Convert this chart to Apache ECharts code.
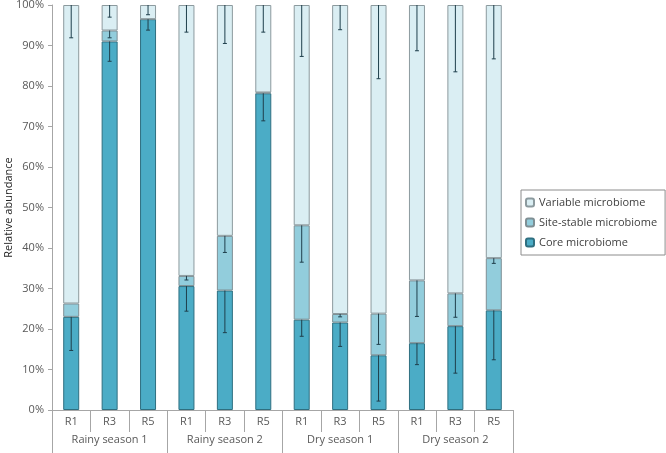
<!DOCTYPE html>
<html>
<head>
<meta charset="utf-8">
<script src="https://cdn.jsdelivr.net/npm/echarts@6/dist/echarts.min.js"></script>
<style>
  html, body { margin: 0; padding: 0; background: #fff; }
  #chart { width: 666px; height: 453px; }
</style>
</head>
<body>
<div id="chart"></div>
<script>
const sites = ['R1', 'R3', 'R5', 'R1', 'R3', 'R5', 'R1', 'R3', 'R5', 'R1', 'R3', 'R5']
const seasons = ['Rainy season 1', 'Rainy season 2', 'Dry season 1', 'Dry season 2']

// percentages of each stacked segment
const core = [23.0, 91.0, 96.5, 30.6, 29.5, 78.2, 22.3, 21.6, 13.5, 16.5, 20.7, 24.6]
const siteStable = [3.3, 2.7, 0, 2.5, 13.5, 0.2, 23.3, 2.1, 10.3, 15.5, 8.1, 12.9]
const variable = core.map((c, i) => +(100 - c - siteStable[i]).toFixed(1))

// downward error bar length, drawn from the top of each segment
const coreErr = [8.3, 4.9, 2.7, 6.2, 10.4, 6.8, 4.1, 5.9, 11.3, 5.3, 11.6, 12.2]
const siteErr = [0, 1.8, 0, 1.0, 4.1, 0, 9.1, 0.7, 7.6, 8.9, 5.9, 1.3]
const variableErr = [8.1, 3.0, 2.4, 6.7, 9.5, 6.7, 12.7, 6.1, 18.2, 11.3, 16.5, 13.3]

const errData = []
core.forEach((c, i) => {
  const siteTop = c + siteStable[i]
  errData.push([i, c, c - coreErr[i]])
  if (siteErr[i] > 0) errData.push([i, siteTop, siteTop - siteErr[i]])
  errData.push([i, 100, 100 - variableErr[i]])
})

const axisGrey = '#a6a6a6'
const textColor = '#595959'
const font = 'Open Sans'

const chart = echarts.init(document.getElementById('chart'))

const barBase = {
  type: 'bar',
  stack: 'total',
  barWidth: 16,
  xAxisIndex: 0,
  yAxisIndex: 0
}

chart.setOption({
  backgroundColor: '#fff',
  animation: false,
  textStyle: { fontFamily: font },
  grid: { left: 52, right: 153, top: 5, bottom: 43, outerBoundsMode: 'none' },
  legend: {
    data: ['Variable microbiome', 'Site-stable microbiome', 'Core microbiome'],
    orient: 'vertical',
    left: 521,
    top: 190,
    itemWidth: 8,
    itemHeight: 8,
    itemGap: 9,
    padding: [7, 8, 7, 4],
    borderColor: '#8c8c8c',
    borderWidth: 1,
    textStyle: { fontSize: 11, color: '#404040', fontFamily: font }
  },
  xAxis: [
    {
      type: 'category',
      data: sites,
      axisLine: { lineStyle: { color: axisGrey } },
      axisTick: { show: true, length: 22, interval: 0, lineStyle: { color: axisGrey } },
      axisLabel: { interval: 0, color: textColor, fontSize: 11, margin: 6 }
    },
    {
      type: 'category',
      data: seasons,
      position: 'bottom',
      axisLine: { show: false },
      axisTick: { show: true, length: 43, interval: 0, lineStyle: { color: axisGrey } },
      axisLabel: { interval: 0, color: textColor, fontSize: 11, margin: 24 }
    }
  ],
  yAxis: {
    type: 'value',
    min: 0,
    max: 100,
    interval: 10,
    name: 'Relative abundance',
    nameLocation: 'middle',
    nameGap: 38,
    nameMoveOverlap: false,
    nameTextStyle: { color: '#262626', fontSize: 11, fontFamily: font },
    axisLine: { show: true, lineStyle: { color: axisGrey } },
    axisTick: { show: true, length: 4, lineStyle: { color: axisGrey } },
    axisLabel: { formatter: '{value}%', color: textColor, fontSize: 11, margin: 8 },
    splitLine: { show: false }
  },
  series: [
    {
      ...barBase,
      name: 'Core microbiome',
      data: core,
      itemStyle: { color: '#4bacc6', borderColor: '#2f6f80', borderWidth: 1 }
    },
    {
      ...barBase,
      name: 'Site-stable microbiome',
      data: siteStable,
      itemStyle: { color: '#92cddc', borderColor: '#7f8f94', borderWidth: 1 }
    },
    {
      ...barBase,
      name: 'Variable microbiome',
      data: variable,
      itemStyle: { color: '#daeef3', borderColor: '#8c9a9e', borderWidth: 1 }
    },
    {
      type: 'custom',
      name: 'error',
      xAxisIndex: 0,
      yAxisIndex: 0,
      z: 10,
      data: errData,
      renderItem: (params, api) => {
        const top = api.coord([api.value(0), api.value(1)])
        const bottom = api.coord([api.value(0), api.value(2)])
        const style = { stroke: '#1f3f4c', lineWidth: 1 }
        return {
          type: 'group',
          children: [
            { type: 'line', shape: { x1: top[0], y1: top[1], x2: bottom[0], y2: bottom[1] }, style },
            { type: 'line', shape: { x1: bottom[0] - 2, y1: bottom[1], x2: bottom[0] + 2, y2: bottom[1] }, style }
          ]
        }
      }
    }
  ]
})
</script>
</body>
</html>
